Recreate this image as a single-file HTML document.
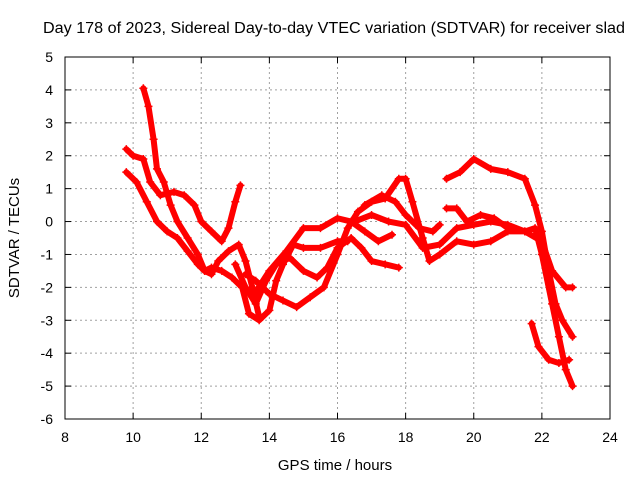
<!DOCTYPE html>
<html><head><meta charset="utf-8"><style>
body{margin:0;background:#fff}
svg text{font-family:"Liberation Sans",sans-serif;font-size:14px;fill:#000}
</style></head><body>
<svg width="640" height="480" xmlns="http://www.w3.org/2000/svg">
<rect width="640" height="480" fill="#fff"/>
<g id="grid"></g>
<g id="series"></g>
<rect x="65" y="57" width="545" height="362" fill="none" stroke="#000"/>
<g id="ticks"></g>
<text x="43" y="33" textLength="582" lengthAdjust="spacingAndGlyphs" style="font-size:15.5px">Day 178 of 2023, Sidereal Day-to-day VTEC variation (SDTVAR) for receiver slad</text>
<text x="335" y="470" text-anchor="middle" style="font-size:15px">GPS time / hours</text>
<text transform="translate(19,238) rotate(-90)" text-anchor="middle" style="font-size:15px">SDTVAR / TECUs</text>
</svg>
<script>
const xTicks=[8,10,12,14,16,18,20,22,24];
const yTicks=[5,4,3,2,1,0,-1,-2,-3,-4,-5,-6];
const trackA=[[10.3,4.05],[10.45,3.5],[10.6,2.5],[10.7,1.6],[10.9,1.2],[11.1,0.5],[11.3,0.0],[11.6,-0.5],[11.9,-1.0],[12.1,-1.5],[12.3,-1.6],[12.5,-1.2],[12.8,-0.9],[13.1,-0.7],[13.3,-1.2],[13.5,-2.0],[13.7,-2.9]];
const trackB=[[9.8,2.2],[10.0,2.0],[10.3,1.9],[10.5,1.2],[10.8,0.8],[11.2,0.9],[11.5,0.8],[11.8,0.5],[12.0,0.0],[12.3,-0.3],[12.6,-0.6],[12.8,-0.2],[13.0,0.6],[13.15,1.1]];
const trackC=[[9.8,1.5],[10.1,1.2],[10.4,0.6],[10.7,0.0],[11.0,-0.3],[11.3,-0.5],[11.6,-0.9],[11.9,-1.3],[12.1,-1.5],[12.3,-1.4],[12.6,-1.5],[12.9,-1.7],[13.2,-2.0],[13.4,-2.8],[13.7,-3.0],[14.0,-2.7],[14.2,-1.8],[14.4,-1.3],[14.7,-0.7],[15.0,-0.8],[15.5,-0.8],[16.0,-0.6],[16.3,-0.6]];
const trackD=[[13.0,-1.3],[13.3,-2.0],[13.6,-2.5],[13.9,-1.8],[14.2,-1.3],[14.6,-1.1],[15.0,-1.5],[15.4,-1.7],[15.7,-1.4],[16.0,-0.8],[16.4,-0.5],[16.7,-0.8],[17.0,-1.2],[17.4,-1.3],[17.8,-1.4]];
const trackE=[[13.3,-1.6],[13.6,-1.8],[14.0,-2.2],[14.4,-2.4],[14.8,-2.6],[15.2,-2.3],[15.6,-2.0],[16.0,-1.0],[16.3,-0.2],[16.6,0.3],[17.0,0.6],[17.4,0.7],[17.8,1.3],[18.0,1.3],[18.2,0.6],[18.5,-0.5],[18.7,-1.2],[19.0,-1.0],[19.5,-0.6],[20.0,-0.7],[20.5,-0.6],[21.0,-0.3],[21.5,-0.3],[21.8,-0.2],[22.0,-1.0],[22.3,-2.5],[22.5,-3.5],[22.7,-4.5],[22.9,-5.0]];
const trackF=[[13.5,-2.3],[14.0,-1.5],[14.5,-0.9],[15.0,-0.2],[15.5,-0.2],[16.0,0.1],[16.4,0.0],[16.8,-0.3],[17.2,-0.6],[17.6,-0.4]];
const trackG=[[16.5,0.0],[17.0,0.2],[17.5,0.0],[18.0,-0.1],[18.5,-0.8],[19.0,-0.7],[19.5,-0.2],[20.0,-0.1],[20.5,0.0],[21.0,-0.1],[21.5,-0.3],[22.0,-0.6],[22.3,-1.5],[22.7,-2.0],[22.9,-2.0]];
const trackH=[[19.2,1.3],[19.6,1.5],[20.0,1.9],[20.5,1.6],[21.0,1.5],[21.5,1.3],[21.8,0.5],[22.0,-0.3],[22.2,-1.5],[22.4,-2.5],[22.6,-3.0],[22.9,-3.5]];
const trackI=[[21.7,-3.1],[21.9,-3.8],[22.2,-4.2],[22.5,-4.3],[22.8,-4.2]];
const trackJ=[[19.2,0.4],[19.5,0.4],[19.8,0.0],[20.2,0.2],[20.6,0.1],[21.0,-0.2]];
const trackK=[[16.8,0.5],[17.3,0.8],[17.7,0.6],[18.0,0.2],[18.4,-0.2],[18.8,-0.3],[19.0,-0.1]];
const tracks=[trackA,trackB,trackC,trackD,trackE,trackF,trackG,trackH,trackI,trackJ,trackK];
const X=v=>65+(v-8)*545/16, Y=v=>57+(5-v)*362/11;
const NS='http://www.w3.org/2000/svg';
function mk(t,a,p){const e=document.createElementNS(NS,t);for(const k in a)e.setAttribute(k,a[k]);p.appendChild(e);return e;}
const g=document.getElementById('grid'),tk=document.getElementById('ticks'),s=document.getElementById('series');
xTicks.forEach(v=>{
 if(v>8&&v<24){const l=mk('line',{x1:X(v),x2:X(v),y1:57,y2:419,stroke:'#a0a0a0','stroke-dasharray':'2,3'},g);
 }
 mk('line',{x1:X(v),x2:X(v),y1:419,y2:413,stroke:'#000'},tk);mk('line',{x1:X(v),x2:X(v),y1:57,y2:63,stroke:'#000'},tk);
 const t=mk('text',{x:X(v),y:442,'text-anchor':'middle'},tk);t.textContent=v;
 
});
yTicks.forEach(v=>{
 if(v<5&&v>-6){const l=mk('line',{x1:65,x2:610,y1:Y(v),y2:Y(v),stroke:'#a0a0a0','stroke-dasharray':'2,3'},g);
 }
 mk('line',{x1:65,x2:71,y1:Y(v),y2:Y(v),stroke:'#000'},tk);mk('line',{x1:610,x2:604,y1:Y(v),y2:Y(v),stroke:'#000'},tk);
 const t=mk('text',{x:53,y:Y(v)+5,'text-anchor':'end'},tk);t.textContent=v;
 
});
tracks.forEach(tr=>{
 const p=mk('polyline',{points:tr.map(d=>X(d[0])+','+Y(d[1])).join(' '),fill:'none',stroke:'#f00','stroke-width':6,'stroke-linejoin':'round','stroke-linecap':'round'},s);
 
 tr.forEach(d=>{const m=mk('path',{d:`M${X(d[0])-4},${Y(d[1])}h8M${X(d[0])},${Y(d[1])-4}v8`,stroke:'#f00','stroke-width':1.5},s);
 });
});
</script>
</body></html>
